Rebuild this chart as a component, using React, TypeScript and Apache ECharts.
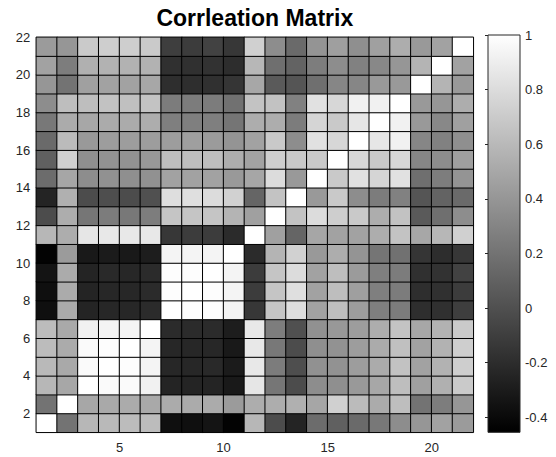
import React, { useEffect, useRef } from "react";
import * as echarts from "echarts";

// Variables shown (pcolor drops the last row/column of the 22x22 matrix)
const variables: string[] = Array.from({ length: 21 }, (_, i) => String(i + 1));
const xTickValues = [5, 10, 15, 20];
const yTickValues = [2, 4, 6, 8, 10, 12, 14, 16, 18, 20, 22];
const colorbarTicks = [-0.4, -0.2, 0, 0.2, 0.4, 0.6, 0.8, 1];
const colorMin = -0.455;
const colorMax = 1;

// Lower triangle of the correlation matrix, row r holds columns 1..r
const lowerTriangle: number[][] = [
  [1],
  [0.2, 1],
  [0.59, 0.5, 1],
  [0.6, 0.51, 0.97, 1],
  [0.62, 0.52, 0.97, 0.99, 1],
  [0.62, 0.51, 0.92, 0.94, 0.94, 1],
  [-0.37, 0.52, -0.25, -0.23, -0.23, -0.21, 1],
  [-0.37, 0.52, -0.25, -0.23, -0.23, -0.21, 0.99, 1],
  [-0.34, 0.52, -0.25, -0.22, -0.23, -0.21, 0.99, 0.99, 1],
  [-0.44, 0.43, -0.31, -0.3, -0.31, -0.29, 0.94, 0.94, 0.94, 1],
  [0.59, 0.53, 0.86, 0.87, 0.87, 0.87, -0.14, -0.11, -0.11, -0.21, 1],
  [-0.02, 0.53, 0.22, 0.25, 0.23, 0.26, 0.67, 0.67, 0.67, 0.57, 0.46, 1],
  [-0.25, 0.55, -0.02, -0.01, -0.02, 0.0, 0.81, 0.82, 0.8, 0.74, 0.12, 0.66, 1],
  [0.16, 0.49, 0.35, 0.37, 0.36, 0.37, 0.47, 0.47, 0.47, 0.42, 0.49, 0.8, 0.42, 1],
  [0.09, 0.73, 0.36, 0.38, 0.38, 0.41, 0.63, 0.63, 0.63, 0.53, 0.47, 0.72, 0.69, 0.69, 1],
  [0.15, 0.61, 0.42, 0.44, 0.44, 0.44, 0.44, 0.45, 0.43, 0.39, 0.47, 0.69, 0.35, 0.83, 0.77, 1],
  [0.23, 0.52, 0.5, 0.52, 0.52, 0.53, 0.27, 0.27, 0.27, 0.21, 0.53, 0.53, 0.25, 0.76, 0.69, 0.86, 1],
  [0.35, 0.63, 0.63, 0.65, 0.64, 0.66, 0.25, 0.25, 0.25, 0.19, 0.66, 0.65, 0.28, 0.83, 0.77, 0.92, 0.92, 1],
  [0.4, 0.2, 0.46, 0.47, 0.47, 0.5, -0.19, -0.19, -0.18, -0.15, 0.5, 0.06, 0.03, 0.18, 0.31, 0.31, 0.42, 0.42, 1],
  [0.47, 0.26, 0.55, 0.56, 0.56, 0.56, -0.18, -0.18, -0.17, -0.2, 0.59, 0.18, 0.11, 0.26, 0.35, 0.28, 0.32, 0.4, 0.57, 1],
  [0.43, 0.4, 0.7, 0.72, 0.72, 0.7, -0.1, -0.11, -0.08, -0.14, 0.73, 0.35, 0.15, 0.39, 0.45, 0.36, 0.46, 0.53, 0.42, 0.47, 1],
];

function buildCells(): [number, number, number][] {
  const n = variables.length;
  const cells: [number, number, number][] = [];
  for (let r = 0; r < n; r++) {
    for (let c = 0; c < n; c++) {
      const v = c <= r ? lowerTriangle[r][c] : lowerTriangle[c][r];
      cells.push([c, r, v]);
    }
  }
  return cells;
}

const FONT = "'Liberation Sans', Arial, Helvetica, sans-serif";
const LABEL_COLOR = "#262626";

export default function App() {
  const ref = useRef<HTMLDivElement>(null);

  useEffect(() => {
    if (!ref.current) return;
    const chart = echarts.init(ref.current, undefined, { renderer: "svg" });
    const plot = { left: 36.3, top: 37.3, width: 437, height: 395 };
    const cbar = { left: 488, top: 35, width: 32, height: 397.3 };

    chart.setOption({
      animation: false,
      backgroundColor: "#ffffff",
      textStyle: { fontFamily: FONT },
      grid: [
        { left: plot.left, top: plot.top, width: plot.width, height: plot.height, containLabel: false },
        { left: cbar.left, top: cbar.top, width: cbar.width, height: cbar.height, containLabel: false },
      ],
      xAxis: [
        { type: "category", gridIndex: 0, data: variables, show: false },
        {
          type: "value",
          gridIndex: 0,
          min: 1,
          max: 22,
          position: "bottom",
          axisLine: { show: false },
          axisTick: { show: false },
          splitLine: { show: false },
          axisLabel: {
            customValues: xTickValues,
            color: LABEL_COLOR,
            fontSize: 13,
            fontFamily: FONT,
            margin: 9,
            formatter: (v: number) => String(v),
          },
        },
        { type: "value", gridIndex: 1, min: 0, max: 1, show: false },
      ],
      yAxis: [
        { type: "category", gridIndex: 0, data: variables, show: false },
        {
          type: "value",
          gridIndex: 0,
          min: 1,
          max: 22,
          position: "left",
          axisLine: { show: false },
          axisTick: { show: false },
          splitLine: { show: false },
          axisLabel: {
            customValues: yTickValues,
            color: LABEL_COLOR,
            fontSize: 13,
            fontFamily: FONT,
            margin: 6,
            formatter: (v: number) => String(v),
          },
        },
        {
          type: "value",
          gridIndex: 1,
          min: colorMin,
          max: colorMax,
          position: "right",
          z: 10,
          axisLine: { show: false },
          splitLine: { show: false },
          axisTick: {
            show: true,
            inside: true,
            length: 3,
            customValues: colorbarTicks,
            lineStyle: { color: LABEL_COLOR, width: 1 },
          },
          axisLabel: {
            customValues: colorbarTicks,
            color: LABEL_COLOR,
            fontSize: 13,
            fontFamily: FONT,
            margin: 5,
            formatter: (v: number) => String(Math.round(v * 10) / 10),
          },
        },
      ],
      visualMap: {
        show: false,
        type: "continuous",
        min: colorMin,
        max: colorMax,
        seriesIndex: 0,
        inRange: { color: ["#000000", "#ffffff"] },
      },
      graphic: [
        {
          type: "rect",
          z: 1,
          shape: { x: cbar.left, y: cbar.top, width: cbar.width, height: cbar.height },
          style: {
            fill: new echarts.graphic.LinearGradient(0, 0, 0, 1, [
              { offset: 0, color: "#ffffff" },
              { offset: 1, color: "#000000" },
            ]),
            stroke: "#262626",
            lineWidth: 1,
          },
        },
        {
          type: "text",
          x: plot.left + plot.width / 2,
          y: 18,
          style: {
            text: "Corrleation Matrix",
            fontSize: 23,
            fontWeight: "bold",
            fontFamily: FONT,
            fill: "#000000",
            align: "center",
            verticalAlign: "middle",
          },
        },
      ],
      series: [
        {
          type: "heatmap",
          xAxisIndex: 0,
          yAxisIndex: 0,
          data: buildCells(),
          itemStyle: { borderColor: "#000000", borderWidth: 1 },
          emphasis: { disabled: true },
          progressive: 0,
        },
      ],
    });

    return () => chart.dispose();
  }, []);

  return (
    <div
      ref={ref}
      style={{ position: "fixed", left: 0, top: 0, width: 556, height: 457, background: "#fff" }}
    />
  );
}
